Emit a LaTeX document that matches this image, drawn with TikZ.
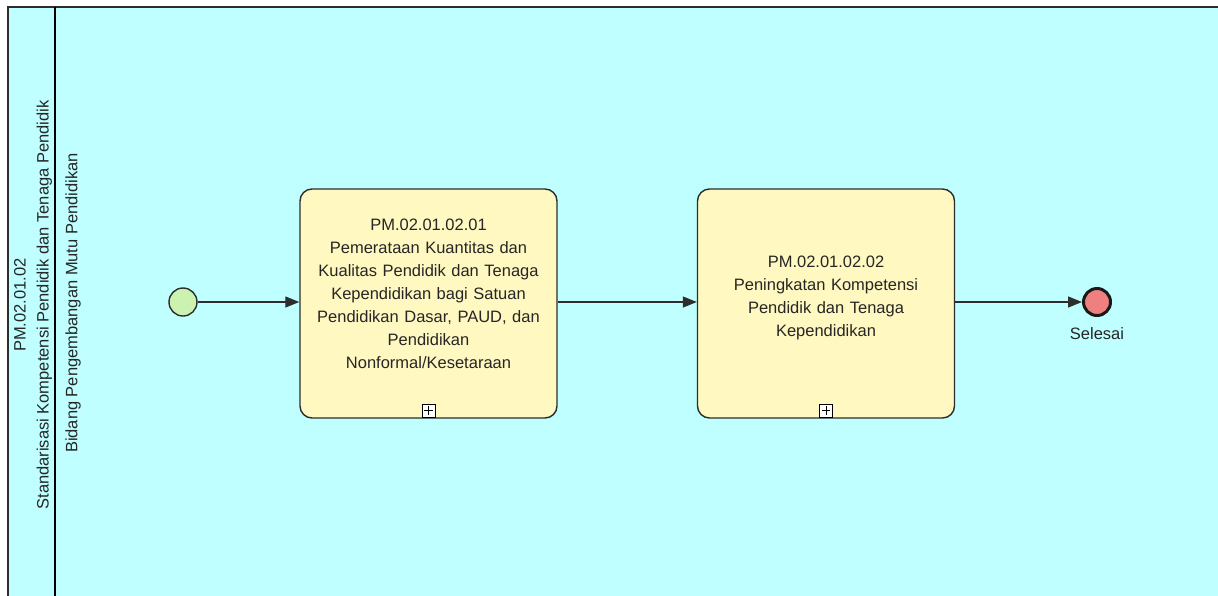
\documentclass[tikz,border=0pt]{standalone}
\usepackage{fontspec}
\setmainfont{Liberation Sans}
\usetikzlibrary{arrows.meta}
\definecolor{poolcyan}{RGB}{191,255,255}
\definecolor{taskyellow}{RGB}{255,248,192}
\definecolor{startgreen}{RGB}{204,242,178}
\definecolor{endred}{RGB}{240,128,128}
\definecolor{edgegray}{RGB}{45,45,45}

\begin{document}
\begin{tikzpicture}[x=1pt, y=-1pt, >={Triangle[length=14pt,width=11pt]},
    task/.style={draw=edgegray, line width=1.4pt, fill=taskyellow, rounded corners=12pt,
                 minimum width=257pt, minimum height=229pt, inner sep=0pt},
    tasktext/.style={align=center, text width=250pt, font=\fontsize{16.5}{23}\selectfont, text=black!85},
    startev/.style={circle, draw=edgegray, line width=1.4pt, fill=startgreen, minimum size=28pt, inner sep=0pt},
    endev/.style={circle, draw=black!90, line width=3pt, fill=endred, minimum size=27pt, inner sep=0pt},
    marker/.style={draw=black, line width=0.9pt, fill=white, minimum size=13pt, inner sep=0pt},
    flow/.style={->, draw=edgegray, line width=1.3pt},
    lanetext/.style={rotate=90, align=center, font=\fontsize{16.5}{23}\selectfont, text=black!85}]
    % ukuran gambar
    \useasboundingbox (0,0) rectangle (1218,595);
    \fill[white] (0,0) rectangle (1218,595);

    % pool dan lane
    \draw[fill=poolcyan, draw=edgegray, line width=1.5pt] (8,7) rectangle (1240,620);
    \draw[black, line width=2.5pt] (55,7) -- (55,620);
    \node[lanetext] (pool) at (33,305) {PM.02.01.02\\Standarisasi Kompetensi Pendidik dan Tenaga Pendidik};
    \node[lanetext] (lane) at (73,303) {Bidang Pengembangan Mutu Pendidikan};

    % event mulai
    \node[startev] (mulai) at (183,302) {};

    % sub proses 1
    \node[task] (t1) at (428.5,303.5) {};
    \node[tasktext] (t1txt) at ([yshift=10pt]t1.center) {PM.02.01.02.01\\Pemerataan Kuantitas dan\\Kualitas Pendidik dan Tenaga\\Kependidikan bagi Satuan\\Pendidikan Dasar, PAUD, dan\\Pendidikan\\Nonformal/Kesetaraan};
    \node[marker, anchor=south] (t1plus) at ([yshift=1pt]t1.south) {};
    \draw[line width=1pt] ([yshift=-2.5pt]t1plus.north) -- ([yshift=2.5pt]t1plus.south)
        ([xshift=2.5pt]t1plus.west) -- ([xshift=-2.5pt]t1plus.east);

    % sub proses 2
    \node[task] (t2) at (826,303.5) {};
    \node[tasktext] (t2txt) at ([yshift=6pt]t2.center) {PM.02.01.02.02\\Peningkatan Kompetensi\\Pendidik dan Tenaga\\Kependidikan};
    \node[marker, anchor=south] (t2plus) at ([yshift=1pt]t2.south) {};
    \draw[line width=1pt] ([yshift=-2.5pt]t2plus.north) -- ([yshift=2.5pt]t2plus.south)
        ([xshift=2.5pt]t2plus.west) -- ([xshift=-2.5pt]t2plus.east);

    % event selesai
    \node[endev] (selesai) at (1097,302) {};
    \node[font=\fontsize{16.5}{20}\selectfont, text=black!85] (selesaitxt) at (1097,334) {Selesai};

    % alur
    \draw[flow] (mulai) -- (t1.west |- mulai);
    \draw[flow] (t1.east |- mulai) -- (t2.west |- mulai);
    \draw[flow] (t2.east |- mulai) -- (selesai);
\end{tikzpicture}
\end{document}
